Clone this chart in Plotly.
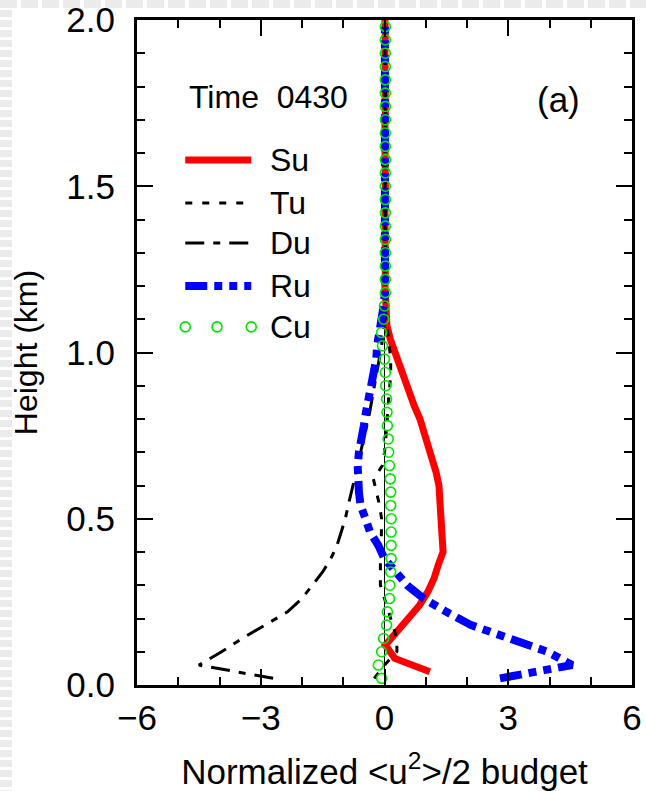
import plotly.graph_objects as go

# ---------------- data ----------------
# heights (km): half levels for Tu, Du, Ru, Cu ; full levels for Su
Z_HALF = [0.02, 0.06, 0.10, 0.14, 0.18, 0.22, 0.26, 0.30, 0.34, 0.38,
          0.42, 0.46, 0.50, 0.54, 0.58, 0.62, 0.66, 0.70, 0.74, 0.78,
          0.82, 0.86, 0.90, 0.94, 0.98, 1.02, 1.06, 1.10, 1.14, 1.18,
          1.22, 1.26, 1.30, 1.34, 1.38, 1.42, 1.46, 1.50, 1.54, 1.58,
          1.62, 1.66, 1.70, 1.74, 1.78, 1.82, 1.86, 1.90, 1.94, 1.98]
Z_FULL = [0.04, 0.08, 0.12, 0.16, 0.20, 0.24, 0.28, 0.32, 0.36, 0.40,
          0.44, 0.48, 0.52, 0.56, 0.60, 0.64, 0.68, 0.72, 0.76, 0.80,
          0.84, 0.88, 0.92, 0.96, 1.00, 1.04, 1.08, 1.12, 1.16, 1.20,
          1.24, 1.28, 1.32, 1.36, 1.40, 1.44, 1.48, 1.52, 1.56, 1.60,
          1.64, 1.68, 1.72, 1.76, 1.80, 1.84, 1.88, 1.92, 1.96, 2.00]

SU = [1.10, 0.25, 0.02, 0.30, 0.60, 0.85, 1.05, 1.20, 1.30, 1.42,
      1.40, 1.38, 1.37, 1.36, 1.32, 1.25, 1.15, 1.05, 0.97, 0.86,
      0.72, 0.60, 0.50, 0.38, 0.26, 0.14, 0.06, 0.03, 0.02, 0.01,
      0.02, 0.01, 0.02, 0.01, 0.02, 0.01, 0.02, 0.01, 0.02, 0.01,
      0.02, 0.01, 0.02, 0.01, 0.02, 0.01, 0.02, 0.01, 0.02, 0.01]
TU = [-0.25, 0.00, 0.30, 0.30, 0.20, 0.10, 0.00, -0.10, -0.10, -0.10,
      -0.08, -0.07, -0.07, -0.12, -0.20, -0.27, -0.05, 0.00, 0.03, 0.05,
      0.08, 0.10, 0.13, 0.15, 0.15, 0.12, 0.08, 0.03, 0.02, 0.02,
      0.02, 0.02, 0.02, 0.02, 0.02, 0.02, 0.02, 0.02, 0.02, 0.02,
      0.02, 0.02, 0.02, 0.02, 0.02, 0.02, 0.02, 0.02, 0.02, 0.02]
DU = [-2.70, -4.50, -3.95, -3.45, -2.90, -2.35, -2.00, -1.75, -1.50, -1.30,
      -1.15, -1.05, -0.95, -0.88, -0.80, -0.72, -0.65, -0.58, -0.50, -0.43,
      -0.36, -0.30, -0.24, -0.18, -0.12, -0.07, -0.03, 0.00, 0.01, 0.01,
      0.01, 0.01, 0.01, 0.01, 0.01, 0.01, 0.01, 0.01, 0.01, 0.01,
      0.01, 0.01, 0.01, 0.01, 0.01, 0.01, 0.01, 0.01, 0.01, 0.01]
RU = [2.80, 4.55, 3.95, 3.00, 2.10, 1.50, 0.95, 0.55, 0.25, 0.00,
      -0.15, -0.35, -0.46, -0.58, -0.62, -0.65, -0.65, -0.62, -0.58, -0.50,
      -0.45, -0.38, -0.32, -0.25, -0.20, -0.18, -0.12, -0.06, -0.02, 0.01,
      0.01, 0.01, 0.01, 0.01, 0.01, 0.01, 0.01, 0.01, 0.01, 0.01,
      0.01, 0.01, 0.01, 0.01, 0.01, 0.01, 0.01, 0.01, 0.01, 0.01]
CU = [-0.07, -0.15, -0.07, -0.02, 0.05, 0.07, 0.12, 0.13, 0.15, 0.16,
      0.16, 0.16, 0.16, 0.15, 0.15, 0.14, 0.12, 0.10, 0.09, 0.07,
      0.06, 0.05, 0.03, 0.02, 0.00, -0.05, -0.07, -0.02, 0.00, 0.02,
      0.02, 0.02, 0.02, 0.02, 0.02, 0.02, 0.02, 0.02, 0.02, 0.02,
      0.02, 0.02, 0.02, 0.02, 0.02, 0.02, 0.02, 0.02, 0.02, 0.02]

NAMES = ["Su", "Tu", "Du", "Ru", "Cu"]
COLORS = ["#ff0000", "#000000", "#000000", "#0000ff", "#00e600"]
WIDTHS = [7, 3, 3, 8, 1.6]
DASHES = ["solid", "7px,10px", "19px,9px,7px,9px", "22px,7px,8px,7px,8px,7px", "solid"]

X_TITLE = "Normalized &lt;u<sup>2</sup>&gt;/2 budget"
Y_TITLE = "Height (km)"
TIME_LABEL = "Time\u00a0\u00a00430"
PANEL_LABEL = "(a)"

FONT = "Liberation Sans, Arial, Helvetica, sans-serif"

fig = go.Figure()
series = [(SU, Z_FULL), (TU, Z_HALF), (DU, Z_HALF), (RU, Z_HALF)]
for i, (xs, zs) in enumerate(series):
    fig.add_trace(go.Scatter(
        x=xs, y=zs, mode="lines", name=NAMES[i], showlegend=False,
        line=dict(color=COLORS[i], width=WIDTHS[i], dash=DASHES[i])))
fig.add_trace(go.Scatter(
    x=CU, y=Z_HALF, mode="markers", name=NAMES[4], showlegend=False,
    marker=dict(symbol="circle-open", size=10, color=COLORS[4],
                line=dict(width=WIDTHS[4], color=COLORS[4]))))

# ---- manual legend (samples + labels) ----
shapes = []
annotations = []
leg_x0, leg_x1 = -4.83, -3.23
leg_rows = [1.579, 1.450, 1.329, 1.200, 1.077]
for i, yy in enumerate(leg_rows):
    if i < 4:
        shapes.append(dict(type="line", xref="x", yref="y", x0=leg_x0, x1=leg_x1,
                           y0=yy, y1=yy,
                           line=dict(color=COLORS[i], width=WIDTHS[i], dash=DASHES[i])))
    else:
        for cx in [-4.83, -4.06, -3.23]:
            shapes.append(dict(type="circle", xref="x", yref="y",
                               xsizemode="pixel", ysizemode="pixel",
                               xanchor=cx, yanchor=yy, x0=-5, x1=5, y0=-5, y1=5,
                               line=dict(color=COLORS[4], width=1.6)))
    annotations.append(dict(x=-2.82, y=yy, xref="x", yref="y", text=NAMES[i],
                            showarrow=False, xanchor="left", yanchor="middle",
                            font=dict(size=32, family=FONT, color="black")))

annotations.append(dict(x=-4.8, y=1.768, xref="x", yref="y", text=TIME_LABEL,
                        showarrow=False, xanchor="left", yanchor="middle",
                        font=dict(size=32, family=FONT, color="black")))
annotations.append(dict(x=4.22, y=1.76, xref="x", yref="y", text=PANEL_LABEL,
                        showarrow=False, xanchor="center", yanchor="middle",
                        font=dict(size=35, family=FONT, color="black")))

# faint page-frame artefacts at top and left edges
shapes.append(dict(type="line", xref="paper", yref="paper",
                   x0=-0.2768, x1=1.0283, y0=1.0241, y1=1.0241,
                   line=dict(color="#ebebeb", width=8, dash="17px,4px")))
shapes.append(dict(type="line", xref="paper", yref="paper",
                   x0=-0.2646, x1=-0.2646, y0=1.0301, y1=-0.1594,
                   line=dict(color="#ebebeb", width=12, dash="7px,3px")))

fig.update_layout(
    width=646, height=791,
    margin=dict(l=137, r=14, t=20, b=106, autoexpand=False),
    paper_bgcolor="white", plot_bgcolor="white",
    font=dict(family=FONT, color="black"),
    shapes=shapes, annotations=annotations,
    showlegend=False,
)

fig.update_xaxes(
    automargin=False,
    range=[-6, 6], tickmode="linear", tick0=-6, dtick=3,
    ticks="inside", ticklen=16, tickwidth=2, tickcolor="black",
    showline=True, linewidth=3, linecolor="black", mirror="ticks",
    showgrid=False, zeroline=True, zerolinecolor="black", zerolinewidth=1,
    minor=dict(tick0=-6, dtick=1, ticks="inside", ticklen=8, tickwidth=2,
               tickcolor="black", showgrid=False),
    tickfont=dict(size=35, family=FONT, color="black"),
    ticklabelstandoff=0,
    title=dict(text=X_TITLE, font=dict(size=35, family=FONT, color="black"), standoff=24),
)
fig.update_yaxes(
    automargin=False,
    range=[0, 2], tickmode="linear", tick0=0, dtick=0.5, tickformat=".1f",
    ticks="inside", ticklen=16, tickwidth=2, tickcolor="black",
    showline=True, linewidth=3, linecolor="black", mirror="ticks",
    showgrid=False, zeroline=False,
    minor=dict(tick0=0, dtick=0.1, ticks="inside", ticklen=8, tickwidth=2,
               tickcolor="black", showgrid=False),
    tickfont=dict(size=35, family=FONT, color="black"),
    ticklabelstandoff=12,
    title=dict(text=Y_TITLE, font=dict(size=32, family=FONT, color="black"), standoff=20),
)

fig.write_html("out.html")
